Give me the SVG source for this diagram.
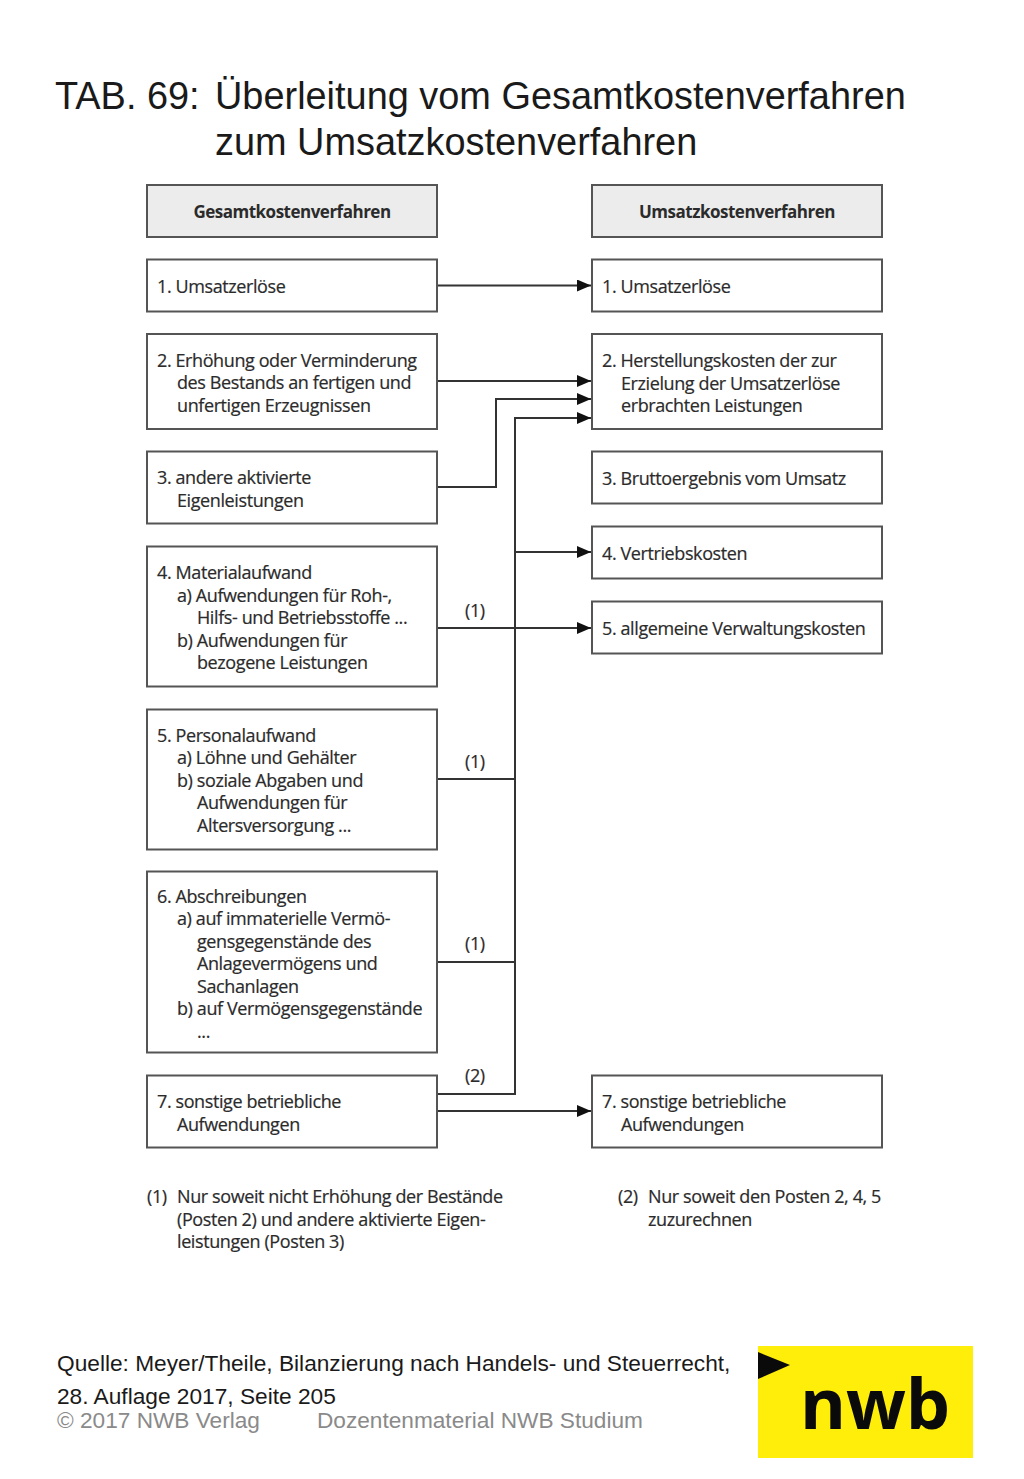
<svg xmlns="http://www.w3.org/2000/svg" width="1024" height="1479" viewBox="0 0 1024 1479">
<style>
.b{fill:#fff;stroke:#555;stroke-width:2}
.h{fill:#ececec;stroke:#555;stroke-width:2}
.t{font-family:"Open Sans","Noto Sans",sans-serif;font-size:18px;fill:#2b2b2b;letter-spacing:-0.4px;stroke:#2b2b2b;stroke-width:0.2px;transform:translateY(0.7px)}
.th{font-family:"Open Sans","Noto Sans",sans-serif;font-size:17px;font-weight:700;fill:#2b2b2b;text-anchor:middle;letter-spacing:-0.5px}
.title{font-family:"Liberation Sans",Arial,sans-serif;font-size:37.9px;fill:#1a1a1a}
.q{font-family:"Liberation Sans",Arial,sans-serif;font-size:22.7px;fill:#1a1a1a}
.c{font-family:"Liberation Sans",Arial,sans-serif;font-size:22.65px;fill:#8a8a8a}
.l{fill:none;stroke:#333;stroke-width:2}
</style>
<defs><marker id="a" markerUnits="userSpaceOnUse" markerWidth="14" markerHeight="12" refX="14" refY="6" orient="auto"><path d="M0 0L14 6L0 12Z" fill="#111"/></marker></defs>
<rect width="1024" height="1479" fill="#fff"/>
<g id="title"><text class="title" x="55" y="109">TAB. 69:</text><text class="title" x="215" y="109">Überleitung vom Gesamtkostenverfahren</text><text class="title" x="215" y="154.500">zum Umsatzkostenverfahren</text></g>
<g id="connectors">
<path class="l" d="M437 285.500H591" marker-end="url(#a)"/>
<path class="l" d="M437 381H591" marker-end="url(#a)"/>
<path class="l" d="M437 487H496V399H591" marker-end="url(#a)"/>
<path class="l" d="M437 1094H515V418H591" marker-end="url(#a)"/>
<path class="l" d="M515 552H591" marker-end="url(#a)"/>
<path class="l" d="M437 628H591" marker-end="url(#a)"/>
<path class="l" d="M437 779H515"/>
<path class="l" d="M437 962H515"/>
<path class="l" d="M437 1111H591" marker-end="url(#a)"/>
</g>
<g id="conn-labels"><text class="t" x="465" y="616">(1)</text><text class="t" x="465" y="767">(1)</text><text class="t" x="465" y="949">(1)</text><text class="t" x="465" y="1081">(2)</text></g>
<g id="l0"><rect class="h" x="147" y="185" width="290" height="52"/><text class="th" x="292" y="218">Gesamtkostenverfahren</text></g>
<g id="r0"><rect class="h" x="592" y="185" width="290" height="52"/><text class="th" x="737" y="218">Umsatzkostenverfahren</text></g>
<g id="l1"><rect class="b" x="147" y="259.500" width="290" height="52"/><text class="t" x="157" y="292">1. Umsatzerlöse</text></g>
<g id="r1"><rect class="b" x="592" y="259.500" width="290" height="52"/><text class="t" x="602" y="292">1. Umsatzerlöse</text></g>
<g id="l2"><rect class="b" x="147" y="334" width="290" height="95"/><text class="t" x="157" y="366">2. Erhöhung oder Verminderung</text><text class="t" x="177" y="388">des Bestands an fertigen und</text><text class="t" x="177" y="411">unfertigen Erzeugnissen</text></g>
<g id="r2"><rect class="b" x="592" y="334" width="290" height="95"/><text class="t" x="602" y="366">2. Herstellungskosten der zur</text><text class="t" x="621" y="389">Erzielung der Umsatzerlöse</text><text class="t" x="621" y="411">erbrachten Leistungen</text></g>
<g id="l3"><rect class="b" x="147" y="451.500" width="290" height="72"/><text class="t" x="157" y="483">3. andere aktivierte</text><text class="t" x="177" y="506">Eigenleistungen</text></g>
<g id="r3"><rect class="b" x="592" y="451.500" width="290" height="52"/><text class="t" x="602" y="484">3. Bruttoergebnis vom Umsatz</text></g>
<g id="r4"><rect class="b" x="592" y="526.500" width="290" height="52"/><text class="t" x="602" y="559">4. Vertriebskosten</text></g>
<g id="r5"><rect class="b" x="592" y="601.500" width="290" height="52"/><text class="t" x="602" y="634">5. allgemeine Verwaltungskosten</text></g>
<g id="l4"><rect class="b" x="147" y="546.500" width="290" height="140"/><text class="t" x="157" y="578">4. Materialaufwand</text><text class="t" x="177" y="601">a) Aufwendungen für Roh-,</text><text class="t" x="197" y="623">Hilfs- und Betriebsstoffe ...</text><text class="t" x="177" y="646">b) Aufwendungen für</text><text class="t" x="197" y="668">bezogene Leistungen</text></g>
<g id="l5"><rect class="b" x="147" y="709.500" width="290" height="140"/><text class="t" x="157" y="741">5. Personalaufwand</text><text class="t" x="177" y="763">a) Löhne und Gehälter</text><text class="t" x="177" y="786">b) soziale Abgaben und</text><text class="t" x="197" y="808">Aufwendungen für</text><text class="t" x="197" y="831">Altersversorgung ...</text></g>
<g id="l6"><rect class="b" x="147" y="871.500" width="290" height="181"/><text class="t" x="157" y="902">6. Abschreibungen</text><text class="t" x="177" y="924">a) auf immaterielle Vermö-</text><text class="t" x="197" y="947">gensgegenstände des</text><text class="t" x="197" y="969">Anlagevermögens und</text><text class="t" x="197" y="992">Sachanlagen</text><text class="t" x="177" y="1014">b) auf Vermögensgegenstände</text><text class="t" x="197" y="1037">...</text></g>
<g id="l7"><rect class="b" x="147" y="1075.500" width="290" height="72"/><text class="t" x="157" y="1107">7. sonstige betriebliche</text><text class="t" x="177" y="1130">Aufwendungen</text></g>
<g id="r7"><rect class="b" x="592" y="1075.500" width="290" height="72"/><text class="t" x="602" y="1107">7. sonstige betriebliche</text><text class="t" x="621" y="1130">Aufwendungen</text></g>
<g id="notes"><text class="t" x="147" y="1202">(1)</text><text class="t" x="177" y="1202">Nur soweit nicht Erhöhung der Bestände</text><text class="t" x="177" y="1225">(Posten 2) und andere aktivierte Eigen-</text><text class="t" x="177" y="1247">leistungen (Posten 3)</text><text class="t" x="618" y="1202">(2)</text><text class="t" x="648" y="1202">Nur soweit den Posten 2, 4, 5</text><text class="t" x="648" y="1225">zuzurechnen</text></g>
<g id="source"><text class="q" x="57" y="1371">Quelle: Meyer/Theile, Bilanzierung nach Handels- und Steuerrecht,</text><text class="q" x="57" y="1404">28. Auflage 2017, Seite 205</text><text class="c" x="57" y="1428">© 2017 NWB Verlag</text><text class="c" x="317" y="1428">Dozentenmaterial NWB Studium</text></g>
<g id="logo"><rect x="758" y="1346" width="215" height="112" fill="#ffed0a"/><path d="M758 1352L790 1365L758 1379Z" fill="#0a0a0a"/><text x="875" y="1429" text-anchor="middle" font-family="'Open Sans','Noto Sans',sans-serif" font-weight="700" font-size="70" fill="#0a0a0a">nwb</text></g>
</svg>
